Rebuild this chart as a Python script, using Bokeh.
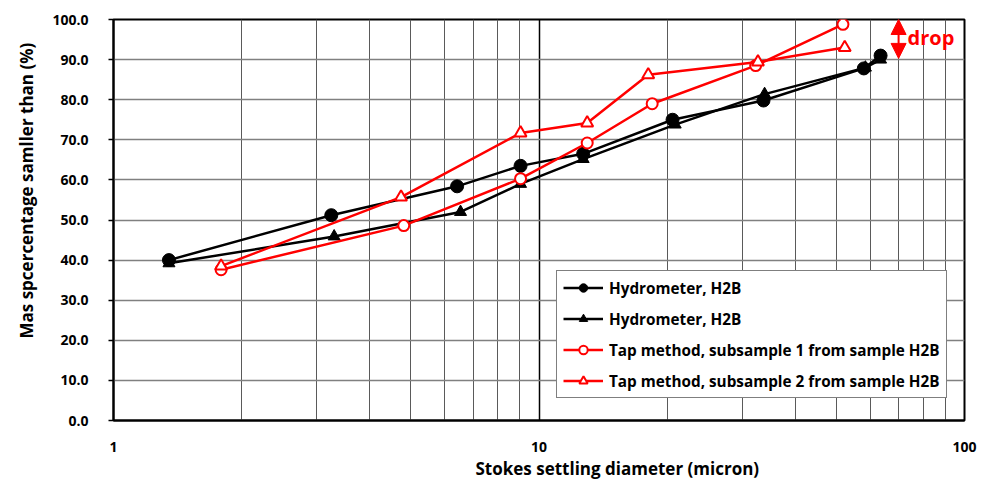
from bokeh.plotting import figure
from bokeh.models import (FixedTicker, NumeralTickFormatter, Arrow, NormalHead,
                          Legend, LegendItem, Label, Title)
from bokeh.embed import file_html
from bokeh.resources import INLINE

# Particle size distribution of sample H2B: hydrometer vs tap method
hydro1_d = [1.35, 3.25, 6.42, 9.05, 12.7, 20.6, 33.7, 58.0, 63.5]
hydro1_pct = [40.0, 51.2, 58.4, 63.5, 66.5, 75.0, 79.8, 87.8, 91.0]

hydro2_d = [1.35, 3.30, 6.54, 9.05, 12.7, 20.9, 33.9, 58.5, 63.5]
hydro2_pct = [39.2, 45.9, 52.0, 59.0, 65.2, 73.8, 81.4, 88.0, 90.0]

tap1_d = [1.79, 4.81, 9.05, 12.98, 18.45, 32.3, 51.8]
tap1_pct = [37.6, 48.6, 60.3, 69.2, 79.0, 88.5, 98.8]

tap2_d = [1.79, 4.74, 9.05, 12.98, 18.06, 32.7, 52.3]
tap2_pct = [38.5, 55.7, 71.7, 74.2, 86.2, 89.4, 93.0]

labels = ["Hydrometer, H2B", "Hydrometer, H2B",
          "Tap method, subsample 1 from sample H2B",
          "Tap method, subsample 2 from sample H2B"]

x_major = [1, 10, 100]
x_minor = [2, 3, 4, 5, 6, 7, 8, 9, 20, 30, 40, 50, 60, 70, 80, 90]
y_ticks = list(range(0, 101, 10))

x_title = "Stokes settling diameter (micron)"
y_title = "Mas spcercentage samller than (%)"

# "drop" annotation: span of the drop between the two tap subsamples
drop_x = 70
drop_top = 100.0
drop_bottom = 90.3

FONT = "Open Sans"

p = figure(width=989, height=480, x_axis_type="log", x_range=(1, 100), y_range=(0, 100),
           output_backend="svg", toolbar_location=None,
           min_border_left=113, min_border_right=25, min_border_top=19, min_border_bottom=60)

p.background_fill_color = "white"
p.border_fill_color = "white"
p.outline_line_color = "black"
p.outline_line_width = 2

xt = FixedTicker(ticks=x_major, minor_ticks=x_minor)
p.xaxis.ticker = xt
p.xgrid.ticker = xt
p.xaxis.formatter = NumeralTickFormatter(format="0")
p.xgrid.grid_line_color = "black"
p.xgrid.grid_line_width = 1.5
p.xgrid.minor_grid_line_color = "#5a5a5a"
p.xgrid.minor_grid_line_width = 1

yt = FixedTicker(ticks=y_ticks, minor_ticks=[])
p.yaxis.ticker = yt
p.ygrid.ticker = yt
p.ygrid.grid_line_color = "#808080"
p.ygrid.grid_line_width = 1.5
p.yaxis.formatter = NumeralTickFormatter(format="0.0")

for ax in (p.xaxis, p.yaxis):
    ax.axis_line_color = "black"
    ax.axis_line_width = 2
    ax.major_label_text_font = FONT
    ax.major_label_text_font_style = "bold"
    ax.major_label_text_font_size = "14px"
    ax.major_label_text_color = "black"
    ax.minor_tick_in = 0
    ax.minor_tick_out = 0
    ax.major_tick_in = 0

p.xaxis.major_tick_out = 0
p.xaxis.major_label_standoff = 21

p.yaxis.major_tick_out = 5
p.yaxis.major_tick_line_color = "black"
p.yaxis.major_tick_line_width = 1.5
p.yaxis.major_label_standoff = 20

# axis titles as side-panel titles, shifted off the frame centre
p.add_layout(Title(text=x_title, align="left", offset=362, standoff=0,
                   text_font=FONT, text_font_style="bold", text_font_size="17px",
                   text_color="black"), "below")
p.add_layout(Title(text=y_title, align="left", offset=82, standoff=24,
                   text_font=FONT, text_font_style="bold", text_font_size="17px",
                   text_color="black"), "left")

# series
l1 = p.line(hydro1_d, hydro1_pct, line_color="black", line_width=2.5)
s1 = p.scatter(hydro1_d, hydro1_pct, marker="circle", size=13,
               fill_color="black", line_color="black")
l2 = p.line(hydro2_d, hydro2_pct, line_color="black", line_width=2.5)
s2 = p.scatter(hydro2_d, hydro2_pct, marker="triangle", size=12,
               fill_color="black", line_color="black")
l3 = p.line(tap1_d, tap1_pct, line_color="#ff0000", line_width=2.5)
s3 = p.scatter(tap1_d, tap1_pct, marker="circle", size=11,
               fill_color="white", line_color="#ff0000", line_width=2)
l4 = p.line(tap2_d, tap2_pct, line_color="#ff0000", line_width=2.5)
s4 = p.scatter(tap2_d, tap2_pct, marker="triangle", size=12,
               fill_color="white", line_color="#ff0000", line_width=2)

legend = Legend(items=[LegendItem(label=labels[0], renderers=[l1, s1]),
                       LegendItem(label=labels[1], renderers=[l2, s2]),
                       LegendItem(label=labels[2], renderers=[l3, s3]),
                       LegendItem(label=labels[3], renderers=[l4, s4])],
                location=(443, 22))
legend.border_line_color = "black"
legend.border_line_width = 1
legend.background_fill_color = "white"
legend.background_fill_alpha = 1
legend.padding = 6
legend.spacing = 10
legend.label_height = 21
legend.glyph_height = 21
legend.glyph_width = 40
legend.label_standoff = 6
legend.margin = 0
legend.label_text_font = FONT
legend.label_text_font_style = "bold"
legend.label_text_font_size = "15.3px"
legend.label_text_color = "black"
p.add_layout(legend)

head = dict(size=15, fill_color="#ff0000", line_color="#ff0000")
p.add_layout(Arrow(start=NormalHead(**head), end=NormalHead(**head),
                   x_start=drop_x, y_start=drop_bottom, x_end=drop_x, y_end=drop_top,
                   line_color="#ff0000", line_width=2))
p.add_layout(Label(x=73.5, y=95.4, text="drop", text_color="#ff0000",
                   text_font=FONT, text_font_style="bold", text_font_size="20px",
                   text_baseline="middle"))

open("out.html", "w").write(file_html(p, INLINE))
